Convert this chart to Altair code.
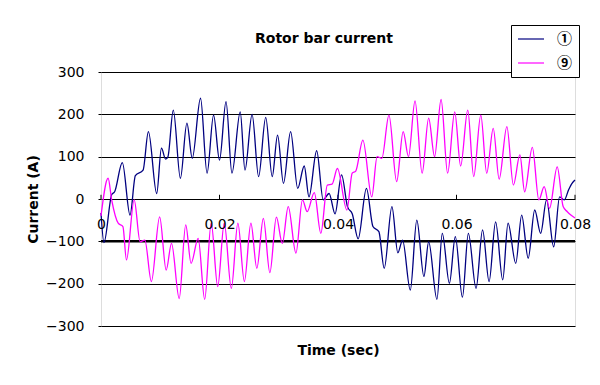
import altair as alt
import pandas as pd

# ---- data ----
series_names = ["①", "⑨"]
series_colors = ["#000080", "#FF00FF"]

t_s1 = [0.0000, 0.0005, 0.0018, 0.0023, 0.0036, 0.0049, 0.0058, 0.0071, 0.0080, 0.0094,
        0.0102, 0.0109, 0.0113, 0.0122, 0.0134, 0.0145, 0.0154, 0.0168, 0.0179, 0.0190,
        0.0200, 0.0211, 0.0221, 0.0235, 0.0243, 0.0255, 0.0266, 0.0278, 0.0289, 0.0298,
        0.0308, 0.0320, 0.0332, 0.0343, 0.0351, 0.0364, 0.0375, 0.0385, 0.0395, 0.0406,
        0.0416, 0.0424, 0.0434, 0.0448, 0.0459, 0.0469, 0.0478, 0.0491, 0.0501, 0.0509,
        0.0522, 0.0533, 0.0545, 0.0553, 0.0567, 0.0576, 0.0588, 0.0598, 0.0610, 0.0620,
        0.0633, 0.0644, 0.0655, 0.0666, 0.0678, 0.0687, 0.0700, 0.0710, 0.0721, 0.0732,
        0.0742, 0.0752, 0.0764, 0.0774, 0.0782, 0.0789, 0.0795, 0.0800]
i_s1 = [-33, -103, 10, 17, 86, -38, 55, 68, 159, 13,
        120, 94, 100, 210, 49, 179, 96, 238, 61, 198,
        92, 230, 61, 206, 68, 200, 53, 193, 53, 151,
        37, 159, 25, 78, 5, 114, -2, 13, -35, 57,
        -18, -35, -94, 25, -65, -77, -164, -18, -127, -97,
        -215, -50, -183, -101, -237, -81, -199, -89, -232, -81,
        -211, -73, -195, -54, -191, -57, -152, -38, -140, -26,
        -81, -2, -113, 5, -2, 21, 37, 45]

t_s9 = [0.0000, 0.0012, 0.0018, 0.0029, 0.0037, 0.0043, 0.0056, 0.0066, 0.0074, 0.0085,
        0.0099, 0.0110, 0.0119, 0.0132, 0.0143, 0.0152, 0.0164, 0.0175, 0.0186, 0.0197,
        0.0208, 0.0220, 0.0231, 0.0242, 0.0253, 0.0263, 0.0274, 0.0285, 0.0296, 0.0306,
        0.0316, 0.0329, 0.0340, 0.0348, 0.0360, 0.0371, 0.0382, 0.0390, 0.0399, 0.0415,
        0.0424, 0.0430, 0.0442, 0.0457, 0.0466, 0.0474, 0.0486, 0.0499, 0.0510, 0.0519,
        0.0530, 0.0542, 0.0553, 0.0563, 0.0574, 0.0585, 0.0597, 0.0607, 0.0619, 0.0629,
        0.0641, 0.0651, 0.0662, 0.0672, 0.0685, 0.0696, 0.0707, 0.0715, 0.0728, 0.0739,
        0.0748, 0.0757, 0.0770, 0.0780, 0.0787, 0.0793, 0.0800]
i_s9 = [-40, 49, -2, -57, -65, -144, -2, -101, -97, -195,
        -42, -168, -105, -235, -61, -152, -93, -237, -57, -207,
        -57, -211, -57, -195, -57, -164, -46, -174, -43, -105,
        -18, -128, -2, -30, 15, -81, 33, 35, 72, -26,
        61, 66, 139, 5, 100, 96, 198, 41, 159, 100,
        232, 61, 191, 100, 235, 61, 206, 78, 210, 53,
        198, 61, 167, 47, 171, 33, 104, 17, 122, -2,
        29, -22, 76, -18, -30, -38, -45]

x_ticks = [0, 0.02, 0.04, 0.06, 0.08]
y_ticks = [-300, -200, -100, 0, 100, 200, 300]
heavy_line = [-100]

df = pd.concat([
    pd.DataFrame({"t": t_s1, "i": i_s1, "series": series_names[0]}),
    pd.DataFrame({"t": t_s9, "i": i_s9, "series": series_names[1]}),
])
tick_df = pd.DataFrame({"t": x_ticks, "y0": [0] * len(x_ticks), "y1": [10] * len(x_ticks)})
heavy_df = pd.DataFrame({"level": heavy_line})

FONT = "DejaVu Sans"
xscale = alt.Scale(domain=[0, 0.08], nice=False, zero=False)
yscale = alt.Scale(domain=[-300, 300], nice=False)

x_axis = alt.Axis(values=x_ticks, format=".2~f", orient="bottom", offset=-127,
                  domain=False, ticks=False, grid=False, labelPadding=18,
                  labelFlush=False, labelOverlap=False,
                  labelFont=FONT, labelFontSize=14, labelColor="black",
                  title="Time (sec)", titleFont=FONT, titleFontSize=14,
                  titleFontWeight="bold", titleColor="black",
                  titleBaseline="middle", titleY=151, zindex=1)
y_axis = alt.Axis(values=y_ticks, format="d", domain=False, ticks=True, tickSize=3,
                  tickColor="black", grid=True, gridColor="black", gridOpacity=1,
                  gridWidth=1, labelPadding=14, labelFont=FONT, labelFontSize=14,
                  labelFlush=False, labelOverlap=False,
                  labelColor="black", title="Current (A)", titleFont=FONT,
                  titleFontSize=14, titleFontWeight="bold", titleColor="black",
                  titleX=-68, titleY=127, titleAlign="center", titleBaseline="middle")

heavy = alt.Chart(heavy_df).mark_rule(color="black", strokeWidth=2.5).encode(
    y=alt.Y("level:Q", scale=yscale, axis=y_axis)
)

ticks = alt.Chart(tick_df).mark_rule(color="black", strokeWidth=1).encode(
    x=alt.X("t:Q", scale=xscale, axis=x_axis),
    y=alt.Y("y0:Q", scale=yscale),
    y2="y1:Q",
)

lines = alt.Chart(df).mark_line(strokeWidth=1.3, interpolate="monotone").encode(
    x=alt.X("t:Q", scale=xscale),
    y=alt.Y("i:Q", scale=yscale),
    color=alt.Color("series:N", title=None,
                    scale=alt.Scale(domain=series_names, range=series_colors),
                    legend=alt.Legend(orient="none", legendX=410, legendY=-47,
                                      symbolType="stroke", symbolSize=680,
                                      symbolStrokeWidth=1.2, clipHeight=16,
                                      labelFont="Noto Sans CJK JP",
                                      labelFontSize=15, labelFontWeight="bold",
                                      labelColor="black",
                                      labelOffset=12, rowPadding=8, padding=6,
                                      strokeColor="black", fillColor="white")),
)

chart = alt.layer(heavy, ticks, lines).properties(
    width=474, height=254,
    title=alt.TitleParams("Rotor bar current", font=FONT, fontSize=14, fontWeight="bold",
                          color="black", anchor="middle", dx=-14, offset=0, dy=21,
                          frame="group"),
    autosize=alt.AutoSizeParams(type="none"),
    padding={"left": 93, "top": 64, "right": 17, "bottom": 45},
).configure_view(stroke="black", strokeWidth=1).configure(background="white")

chart.save("out.html", embed_options={"renderer": "svg", "actions": False})
